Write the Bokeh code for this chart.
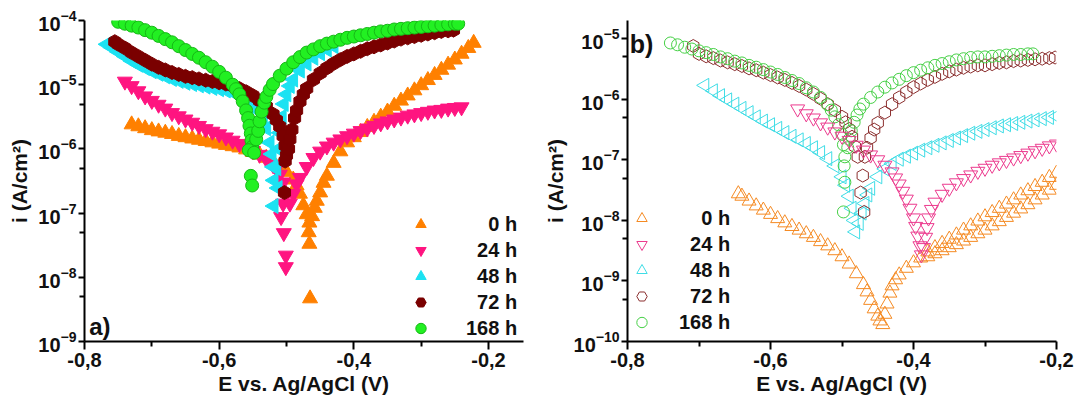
import numpy as np
from bokeh.plotting import figure
from bokeh.layouts import row
from bokeh.models import (FixedTicker, CustomJSTickFormatter, Legend, LegendItem,
                          Label, Range1d)
from bokeh.embed import file_html
from bokeh.resources import INLINE

FONT = "Liberation Sans"
NB = "\u00a0"

# ---------------- axes / labels ----------------
X_TICKS = [-0.8, -0.6, -0.4, -0.2]
X_MINOR = [-0.7, -0.5, -0.3]
A_Y_TICKS = [1e-9, 1e-8, 1e-7, 1e-6, 1e-5, 1e-4]
A_Y_MINOR = [5e-9, 5e-8, 5e-7, 5e-6, 5e-5]
B_Y_TICKS = [1e-10, 1e-9, 1e-8, 1e-7, 1e-6, 1e-5]
B_Y_MINOR = [5e-10, 5e-9, 5e-8, 5e-7, 5e-6]
LABELS = ["0 h", "24 h", "48 h", "72 h", "168 h"]
X_TITLE = "E vs. Ag/AgCl (V)"
Y_TITLE = "i (A/cm²)"

# ---------------- panel a) data: E (V) and log10(i / A cm^-2) ----------------
a0_E = [-0.73, -0.72, -0.71, -0.70, -0.69, -0.68, -0.67, -0.66, -0.65, -0.64,
        -0.63, -0.62, -0.61, -0.60, -0.59, -0.58, -0.57, -0.56, -0.55, -0.54,
        -0.53, -0.52, -0.51, -0.50, -0.49, -0.485, -0.48, -0.475, -0.47,
        -0.466, -0.467, -0.466, -0.465,
        -0.462, -0.458, -0.455, -0.45, -0.445, -0.44,
        -0.43, -0.42, -0.41, -0.40, -0.39, -0.38, -0.37, -0.36, -0.35, -0.34,
        -0.33, -0.32, -0.31, -0.30, -0.29, -0.28, -0.27, -0.26, -0.25, -0.24,
        -0.23, -0.222]
a0_L = [-5.62, -5.65, -5.68, -5.71, -5.73, -5.75, -5.77, -5.80, -5.82, -5.84,
        -5.86, -5.88, -5.90, -5.92, -5.94, -5.96, -5.98, -6.01, -6.05, -6.09,
        -6.14, -6.20, -6.27, -6.36, -6.48, -6.57, -6.70, -6.88, -7.02,
        -7.15, -7.30, -7.48, -8.33,
        -7.05, -6.92, -6.81, -6.68, -6.53, -6.42,
        -6.22, -6.04, -5.90, -5.82, -5.74, -5.66, -5.58, -5.50, -5.42, -5.33,
        -5.25, -5.17, -5.09, -5.01, -4.93, -4.85, -4.77, -4.69, -4.61, -4.52,
        -4.43, -4.35]

a24_E = [-0.74, -0.73, -0.72, -0.71, -0.70, -0.69, -0.68, -0.67, -0.66, -0.65,
         -0.64, -0.63, -0.62, -0.61, -0.60, -0.59, -0.58, -0.57, -0.56, -0.55,
         -0.54, -0.53, -0.52, -0.515, -0.51, -0.505, -0.50,
         -0.505, -0.508, -0.504, -0.501, -0.501,
         -0.495, -0.49, -0.485,
         -0.48, -0.47, -0.46, -0.45, -0.44, -0.43, -0.42, -0.41, -0.40, -0.39,
         -0.38, -0.37, -0.36, -0.35, -0.34, -0.33, -0.32, -0.31, -0.30, -0.29,
         -0.28, -0.27, -0.26, -0.25, -0.24]
a24_L = [-4.95, -5.02, -5.10, -5.18, -5.25, -5.31, -5.37, -5.44, -5.49, -5.54,
         -5.59, -5.64, -5.69, -5.73, -5.77, -5.82, -5.87, -5.92, -5.97, -6.03,
         -6.09, -6.16, -6.25, -6.31, -6.40, -6.52, -6.70,
         -6.85, -7.06, -7.31, -7.66, -7.84,
         -6.85, -6.70, -6.55,
         -6.45, -6.28, -6.14, -6.04, -5.96, -5.90, -5.85, -5.80, -5.76, -5.72,
         -5.68, -5.64, -5.60, -5.57, -5.54, -5.51, -5.48, -5.46, -5.44, -5.42,
         -5.40, -5.39, -5.37, -5.36, -5.35]

a48_E = [-0.767, -0.76, -0.75, -0.74, -0.73, -0.72, -0.71, -0.70, -0.69, -0.68,
         -0.67, -0.66, -0.65, -0.64, -0.63, -0.62, -0.61, -0.60, -0.59, -0.58,
         -0.57, -0.56, -0.55, -0.54, -0.535, -0.53, -0.525, -0.522, -0.52,
         -0.519, -0.513, -0.519,
         -0.515, -0.512, -0.51, -0.507, -0.504, -0.50, -0.495, -0.49, -0.48,
         -0.47, -0.46, -0.45, -0.44, -0.43]
a48_L = [-4.37, -4.42, -4.49, -4.56, -4.63, -4.69, -4.74, -4.79, -4.83, -4.87,
         -4.91, -4.94, -4.97, -4.99, -5.01, -5.03, -5.05, -5.07, -5.09, -5.12,
         -5.16, -5.22, -5.30, -5.42, -5.52, -5.68, -5.90, -6.08, -6.28,
         -6.49, -6.61, -6.89,
         -6.30, -6.00, -5.75, -5.50, -5.30, -5.15, -5.02, -4.92, -4.78,
         -4.67, -4.58, -4.51, -4.45, -4.40]

a72_E = [-0.755, -0.75, -0.74, -0.73, -0.72, -0.71, -0.70, -0.69, -0.68, -0.67,
         -0.66, -0.65, -0.64, -0.63, -0.62, -0.61, -0.60, -0.59, -0.58, -0.57,
         -0.56, -0.55, -0.54, -0.53, -0.52, -0.515, -0.51, -0.505, -0.502, -0.50,
         -0.502, -0.503,
         -0.497, -0.495, -0.492, -0.488, -0.485, -0.48, -0.475, -0.47,
         -0.46, -0.45, -0.44, -0.43, -0.42, -0.41, -0.40, -0.39, -0.38, -0.37,
         -0.36, -0.35, -0.34, -0.33, -0.32, -0.31, -0.30, -0.29, -0.28, -0.27,
         -0.26, -0.252]
a72_L = [-4.33, -4.37, -4.43, -4.50, -4.56, -4.62, -4.68, -4.73, -4.77, -4.81,
         -4.84, -4.87, -4.89, -4.91, -4.93, -4.95, -4.97, -4.99, -5.02, -5.06,
         -5.11, -5.17, -5.25, -5.34, -5.46, -5.55, -5.65, -5.80, -5.95, -6.10,
         -6.19, -6.68,
         -6.00, -5.85, -5.70, -5.52, -5.40, -5.26, -5.15, -5.06,
         -4.92, -4.82, -4.74, -4.67, -4.61, -4.56, -4.52, -4.48, -4.44, -4.41,
         -4.38, -4.35, -4.32, -4.29, -4.27, -4.25, -4.23, -4.21, -4.19, -4.17,
         -4.16, -4.15]

a168_E = [-0.75, -0.74, -0.73, -0.72, -0.71, -0.70, -0.69, -0.68, -0.67, -0.66,
          -0.65, -0.64, -0.63, -0.62, -0.61, -0.60, -0.59, -0.58,
          -0.575, -0.57, -0.565, -0.56, -0.557, -0.555, -0.553, -0.552, -0.551,
          -0.556, -0.548, -0.553, -0.551,
          -0.545, -0.542, -0.54, -0.537, -0.533, -0.53, -0.525, -0.52, -0.51,
          -0.50, -0.49, -0.48, -0.47, -0.46, -0.45, -0.44, -0.43, -0.42, -0.41,
          -0.40, -0.39, -0.38, -0.37, -0.36, -0.35, -0.34, -0.33, -0.32, -0.31,
          -0.30, -0.29, -0.28, -0.27, -0.26, -0.25, -0.245]
a168_L = [-4.02, -4.05, -4.08, -4.11, -4.15, -4.19, -4.24, -4.29, -4.34, -4.40,
          -4.46, -4.52, -4.58, -4.65, -4.72, -4.80, -4.89, -5.00,
          -5.07, -5.15, -5.26, -5.40, -5.52, -5.64, -5.76, -5.87, -5.97,
          -6.02, -6.06, -6.42, -6.57,
          -5.85, -5.72, -5.57, -5.42, -5.28, -5.19, -5.08, -4.99, -4.86,
          -4.75, -4.65, -4.57, -4.50, -4.45, -4.40, -4.36, -4.33, -4.30, -4.27,
          -4.25, -4.23, -4.21, -4.19, -4.17, -4.16, -4.14, -4.13, -4.12, -4.11,
          -4.10, -4.09, -4.08, -4.07, -4.06, -4.05, -4.05]

# ---------------- panel b) data ----------------
b0_E = [-0.645, -0.64, -0.63, -0.62, -0.61, -0.60, -0.59, -0.58, -0.57, -0.56,
        -0.55, -0.54, -0.53, -0.52, -0.51, -0.50, -0.49, -0.48, -0.47,
        -0.465, -0.46, -0.455, -0.45, -0.447, -0.443,
        -0.44, -0.437, -0.433, -0.43, -0.425, -0.42, -0.41, -0.40, -0.39,
        -0.38, -0.37, -0.36, -0.35, -0.34, -0.33, -0.32, -0.31, -0.30, -0.29,
        -0.28, -0.27, -0.26, -0.25, -0.24, -0.23, -0.22, -0.21, -0.20,
        -0.38, -0.37, -0.36, -0.35, -0.34, -0.33, -0.32, -0.31, -0.30, -0.29,
        -0.28, -0.27, -0.26, -0.25, -0.24, -0.23, -0.22, -0.21, -0.20]
b0_L = [-7.56, -7.60, -7.68, -7.76, -7.83, -7.90, -7.97, -8.04, -8.10, -8.16,
        -8.22, -8.28, -8.35, -8.42, -8.50, -8.60, -8.72, -8.88, -9.06,
        -9.18, -9.32, -9.46, -9.58, -9.66, -9.72,
        -9.55, -9.38, -9.20, -9.08, -8.98, -8.90, -8.79, -8.70, -8.62,
        -8.52, -8.45, -8.38, -8.31, -8.24, -8.16, -8.09, -8.01, -7.94, -7.87,
        -7.80, -7.73, -7.66, -7.58, -7.51, -7.44, -7.37, -7.29, -7.22,
        -8.60, -8.55, -8.50, -8.45, -8.40, -8.34, -8.28, -8.22, -8.16, -8.09,
        -8.02, -7.95, -7.88, -7.81, -7.74, -7.66, -7.58, -7.50, -7.42]

b24_E = [-0.562, -0.55, -0.54, -0.53, -0.52, -0.51, -0.50, -0.49, -0.48, -0.47,
         -0.46, -0.45, -0.44, -0.43,
         -0.425, -0.42, -0.415, -0.41, -0.405, -0.40, -0.397, -0.394, -0.391, -0.389,
         -0.386, -0.383, -0.381, -0.379, -0.375,
         -0.37, -0.36, -0.35, -0.34, -0.33, -0.32, -0.31, -0.30, -0.29, -0.28,
         -0.27, -0.26, -0.25, -0.24, -0.23, -0.22, -0.21, -0.20]
b24_L = [-6.16, -6.24, -6.31, -6.39, -6.46, -6.54, -6.61, -6.68, -6.76, -6.84,
         -6.92, -7.00, -7.09, -7.20,
         -7.30, -7.40, -7.52, -7.65, -7.80, -7.96, -8.10, -8.26, -8.42, -8.57,
         -8.45, -8.28, -8.12, -7.96, -7.82,
         -7.70, -7.57, -7.47, -7.38, -7.31, -7.25, -7.19, -7.14, -7.09, -7.05,
         -7.01, -6.97, -6.93, -6.89, -6.85, -6.81, -6.77, -6.74]

b48_E = [-0.692, -0.68, -0.67, -0.66, -0.65, -0.64, -0.63, -0.62, -0.61, -0.60,
         -0.59, -0.58, -0.57, -0.56, -0.55, -0.54, -0.53, -0.52, -0.51, -0.50,
         -0.495, -0.49, -0.486, -0.483, -0.481,
         -0.476, -0.472, -0.468, -0.464,
         -0.46, -0.45, -0.44, -0.43, -0.42, -0.41, -0.40, -0.39, -0.38, -0.37,
         -0.36, -0.35, -0.34, -0.33, -0.32, -0.31, -0.30, -0.29, -0.28, -0.27,
         -0.26, -0.25, -0.24, -0.23, -0.22, -0.21, -0.20]
b48_L = [-5.77, -5.86, -5.94, -6.01, -6.08, -6.15, -6.22, -6.29, -6.36, -6.42,
         -6.48, -6.55, -6.61, -6.67, -6.73, -6.80, -6.88, -6.98, -7.10, -7.28,
         -7.42, -7.60, -7.80, -8.00, -8.19,
         -8.05, -7.88, -7.72, -7.58,
         -7.47, -7.28, -7.15, -7.06, -6.99, -6.94, -6.89, -6.84, -6.80, -6.76,
         -6.72, -6.68, -6.64, -6.60, -6.56, -6.53, -6.50, -6.47, -6.44, -6.42,
         -6.40, -6.38, -6.36, -6.34, -6.32, -6.30, -6.28]

b72_E = [-0.708, -0.70, -0.69, -0.68, -0.67, -0.66, -0.65, -0.64, -0.63, -0.62,
         -0.61, -0.60, -0.59, -0.58, -0.57, -0.56, -0.55, -0.54, -0.53, -0.52,
         -0.51, -0.50, -0.495, -0.49, -0.486, -0.482,
         -0.478, -0.471, -0.474, -0.469,
         -0.468, -0.465, -0.46, -0.455, -0.45,
         -0.44, -0.43, -0.42, -0.41, -0.40, -0.39, -0.38, -0.37, -0.36, -0.35,
         -0.34, -0.33, -0.32, -0.31, -0.30, -0.29, -0.28, -0.27, -0.26, -0.25,
         -0.24, -0.23, -0.22, -0.21, -0.202]
b72_L = [-5.12, -5.25, -5.29, -5.32, -5.36, -5.39, -5.42, -5.45, -5.49, -5.52,
         -5.56, -5.60, -5.64, -5.68, -5.73, -5.78, -5.84, -5.91, -5.99, -6.08,
         -6.18, -6.29, -6.38, -6.49, -6.62, -6.78,
         -6.95, -7.26, -7.54, -7.86,
         -6.95, -6.80, -6.64, -6.50, -6.39,
         -6.22, -6.08, -5.97, -5.88, -5.80, -5.74, -5.68, -5.63, -5.58, -5.54,
         -5.51, -5.48, -5.46, -5.44, -5.44, -5.42, -5.40, -5.39, -5.37, -5.36,
         -5.35, -5.34, -5.33, -5.32, -5.31]

b168_E = [-0.74, -0.73, -0.72, -0.71, -0.70, -0.69, -0.68, -0.67, -0.66, -0.65,
          -0.64, -0.63, -0.62, -0.61, -0.60, -0.59, -0.58, -0.57, -0.56, -0.55,
          -0.54, -0.53, -0.52, -0.515, -0.51, -0.505, -0.50, -0.498,
          -0.496, -0.497, -0.496, -0.498,
          -0.492, -0.49, -0.487, -0.483, -0.479, -0.475,
          -0.47, -0.46, -0.45, -0.44, -0.43, -0.42, -0.41, -0.40, -0.39, -0.38,
          -0.37, -0.36, -0.35, -0.34, -0.33, -0.32, -0.31, -0.30, -0.29, -0.28,
          -0.27, -0.26, -0.25, -0.24, -0.233]
b168_L = [-5.07, -5.10, -5.14, -5.17, -5.20, -5.23, -5.26, -5.30, -5.33, -5.37,
          -5.40, -5.44, -5.47, -5.51, -5.55, -5.59, -5.64, -5.69, -5.74, -5.81,
          -5.88, -5.97, -6.09, -6.18, -6.29, -6.42, -6.58, -6.75,
          -6.95, -7.10, -7.37, -7.86,
          -6.80, -6.66, -6.52, -6.38, -6.26, -6.16,
          -6.08, -5.97, -5.88, -5.80, -5.73, -5.67, -5.61, -5.56, -5.52, -5.48,
          -5.44, -5.41, -5.38, -5.35, -5.33, -5.31, -5.30, -5.30, -5.29, -5.28,
          -5.27, -5.26, -5.26, -5.25, -5.25]

A_SERIES = [(a0_E, a0_L), (a24_E, a24_L), (a48_E, a48_L), (a72_E, a72_L), (a168_E, a168_L)]
B_SERIES = [(b0_E, b0_L), (b24_E, b24_L), (b48_E, b48_L), (b72_E, b72_L), (b168_E, b168_L)]
for e_, l_ in A_SERIES + B_SERIES:
    assert len(e_) == len(l_), (len(e_), len(l_))

# ---------------- styles ----------------
A_COLORS = ["#FF8000", "#FF1480", "#1CE2F2", "#7A0000", "#22F022"]
A_LINES = ["#FF8000", "#FF1480", "#1CE2F2", "#7A0000", "#16B816"]
B_COLORS = ["#F58A22", "#EC3A8E", "#3FDDE6", "#8B2E2E", "#45D045"]
MARKERS = ["triangle", "inverted_triangle", "triangle", "hex", "circle"]
ANGLES = [0.0, 0.0, np.pi / 2, np.pi / 2, 0.0]
SIZES = [15, 15, 15, 14, 13]


def make_fig(width, ymin, ymax, xmax, bl, br, bt, yticks, yminor):
    p = figure(width=width, height=400, y_axis_type="log",
               x_range=Range1d(-0.8, xmax), y_range=Range1d(ymin, ymax),
               output_backend="svg", toolbar_location=None,
               min_border_left=bl, min_border_right=br, min_border_top=bt,
               min_border_bottom=59)
    p.outline_line_color = None
    p.xgrid.visible = False
    p.ygrid.visible = False
    xa = p.xaxis[0]
    ya = p.yaxis[0]
    xa.ticker = FixedTicker(ticks=X_TICKS, minor_ticks=X_MINOR)
    xa.formatter = CustomJSTickFormatter(code="return tick.toFixed(1).replace('.', ',');")
    ya.ticker = FixedTicker(ticks=yticks, minor_ticks=yminor)
    for ax in (xa, ya):
        ax.axis_line_width = 2
        ax.major_tick_line_width = 2
        ax.minor_tick_line_width = 2
        ax.major_tick_in = 0
        ax.minor_tick_in = 0
        ax.major_label_text_font = FONT
        ax.major_label_text_font_style = "bold"
        ax.major_label_text_font_size = "20px"
        ax.major_label_text_color = "#111111"
        ax.axis_label_text_font = FONT
        ax.axis_label_text_font_style = "bold"
        ax.axis_label_text_font_size = "21px"
        ax.axis_label_text_color = "#111111"
    xa.major_tick_out = 8
    xa.minor_tick_out = 5
    ya.major_tick_out = 6
    ya.minor_tick_out = 5
    xa.axis_label = X_TITLE
    ya.axis_label = Y_TITLE
    xa.major_label_standoff = 3
    xa.axis_label_standoff = 2
    ya.major_label_standoff = 2
    ya.axis_label_standoff = 4
    return p


def padded(lbl):
    return NB * (2 * (5 - len(lbl))) + lbl


LEG_STYLE = dict(glyph_width=35, glyph_height=26, spacing=0, padding=0, margin=0,
                 background_fill_alpha=0, border_line_alpha=0,
                 label_text_font=FONT, label_text_font_style="bold",
                 label_text_font_size="20px", label_text_color="#111111")

# ---------------- panel a ----------------
pa = make_fig(540, 1e-9, 1e-4, -0.148, 84, 17, 20, A_Y_TICKS, A_Y_MINOR)
items_a = []
for (E, L), lbl, c, lc, m, ang, s in zip(A_SERIES, LABELS, A_COLORS, A_LINES, MARKERS, ANGLES, SIZES):
    r = pa.scatter(x=E, y=[10 ** v for v in L], marker=m, angle=ang, size=s,
                   fill_color=c, line_color=lc, line_width=1)
    items_a.append(LegendItem(label=padded(lbl), renderers=[r]))
leg_a = Legend(items=items_a, location="bottom_right", label_standoff=28, label_width=57,
               **LEG_STYLE)
pa.add_layout(leg_a)
pa.add_layout(Label(x=-0.793, y=1.05e-9, text="a)", text_font=FONT, text_font_style="bold",
                    text_font_size="24px", text_baseline="bottom", text_color="#111111"))

# ---------------- panel b ----------------
pb = make_fig(541, 1e-10, 2e-5, -0.2, 80, 25, 18, B_Y_TICKS, B_Y_MINOR)
order = [0, 2, 3, 4, 1]
rend_b = {}
for k in order:
    E, L = B_SERIES[k]
    r = pb.scatter(x=E, y=[10 ** v for v in L], marker=MARKERS[k], angle=ANGLES[k],
                   size=SIZES[k] - 1, fill_color=None, line_color=B_COLORS[k], line_width=1)
    rend_b[k] = r
items_b = [LegendItem(label=padded(LABELS[k]), renderers=[rend_b[k]]) for k in range(5)]
leg_b = Legend(items=items_b, location=(-3, 6), label_standoff=20, **LEG_STYLE)
pb.add_layout(leg_b)
pb.add_layout(Label(x=-0.797, y=10 ** -4.86, text="b)", text_font=FONT, text_font_style="bold",
                    text_font_size="25px", text_baseline="top", text_color="#111111"))

layout = row(pa, pb)
open("out.html", "w").write(file_html(layout, INLINE))
